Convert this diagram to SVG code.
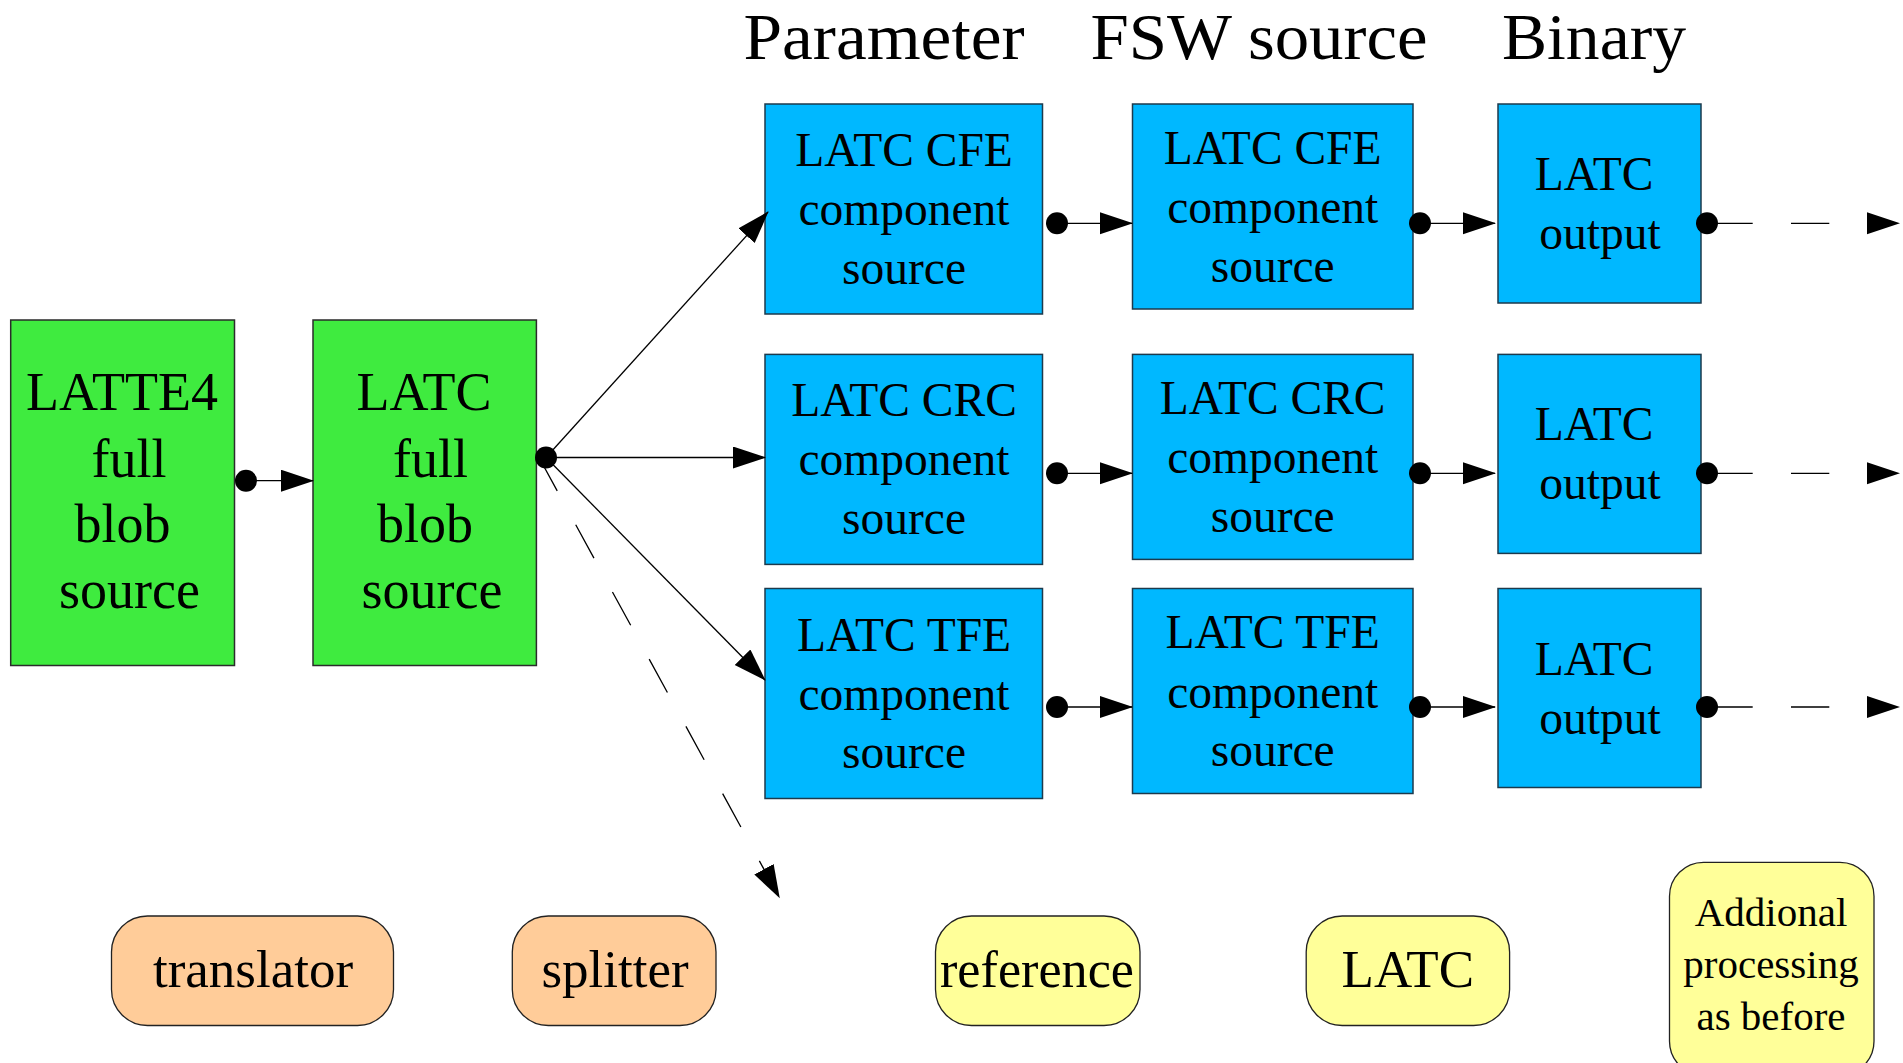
<svg xmlns="http://www.w3.org/2000/svg" width="1903" height="1063" viewBox="0 0 1903 1063">
  <style>
    text { font-family: "Liberation Serif", "Times New Roman", serif; fill: #000; text-anchor: middle; }
    .title { font-size: 66px; }
    .big { font-size: 54px; }
    .mid { font-size: 47.5px; }
    .leg { font-size: 53px; }
    .small { font-size: 41px; }
    .green { fill: #3feb3f; stroke: #2b2b2b; stroke-width: 1.5; }
    .blue { fill: #00b8ff; stroke: #1c3a4c; stroke-width: 1.5; }
    .orange { fill: #ffcc99; stroke: #222; stroke-width: 1.3; }
    .yellow { fill: #ffff99; stroke: #222; stroke-width: 1.3; }
    .wire { stroke: #000; stroke-width: 1.3; fill: none; marker-end: url(#head); }
    .dash { stroke-dasharray: 38 38.6; }
    .dot { fill: #000; }
  </style>
  <defs>
    <marker id="head" markerUnits="userSpaceOnUse" markerWidth="34" markerHeight="24" refX="32" refY="11" orient="auto">
      <path d="M0,0 L33,11 L0,22 Z" fill="#000"/>
    </marker>
  </defs>

  <!-- column headings -->
  <g id="headings">
    <text class="title" x="884" y="59" textLength="281" lengthAdjust="spacingAndGlyphs">Parameter</text>
    <text class="title" x="1259" y="59" textLength="337" lengthAdjust="spacingAndGlyphs">FSW source</text>
    <text class="title" x="1594" y="59" textLength="184" lengthAdjust="spacingAndGlyphs">Binary</text>
  </g>

  <!-- source blobs -->
  <g id="latte4-blob">
    <rect class="green" x="10.7" y="320" width="223.8" height="345.5"/>
    <text class="big" x="122" y="410">LATTE4</text>
    <text class="big" x="129" y="476.5">full</text>
    <text class="big" x="122.5" y="542">blob</text>
    <text class="big" x="129.5" y="608">source</text>
  </g>
  <g id="latc-blob">
    <rect class="green" x="313" y="320" width="223.4" height="345.5"/>
    <text class="big" x="424" y="410">LATC</text>
    <text class="big" x="430.5" y="476.5">full</text>
    <text class="big" x="425" y="542">blob</text>
    <text class="big" x="432" y="608">source</text>
  </g>

  <!-- parameter sources -->
  <g id="param-cfe">
    <rect class="blue" x="765" y="104" width="277.5" height="210"/>
    <text class="mid" x="904" y="166">LATC CFE</text>
    <text class="mid" x="904" y="225">component</text>
    <text class="mid" x="904" y="283.5">source</text>
  </g>
  <g id="param-crc">
    <rect class="blue" x="765" y="354.4" width="277.5" height="210"/>
    <text class="mid" x="904" y="416.4">LATC CRC</text>
    <text class="mid" x="904" y="475.4">component</text>
    <text class="mid" x="904" y="533.9">source</text>
  </g>
  <g id="param-tfe">
    <rect class="blue" x="765" y="588.5" width="277.5" height="210"/>
    <text class="mid" x="904" y="650.5">LATC TFE</text>
    <text class="mid" x="904" y="709.5">component</text>
    <text class="mid" x="904" y="768">source</text>
  </g>

  <!-- FSW sources -->
  <g id="fsw-cfe">
    <rect class="blue" x="1132.5" y="104" width="280.5" height="205"/>
    <text class="mid" x="1272.7" y="163.5">LATC CFE</text>
    <text class="mid" x="1272.7" y="223">component</text>
    <text class="mid" x="1272.7" y="281.5">source</text>
  </g>
  <g id="fsw-crc">
    <rect class="blue" x="1132.5" y="354.4" width="280.5" height="205"/>
    <text class="mid" x="1272.7" y="413.9">LATC CRC</text>
    <text class="mid" x="1272.7" y="473.4">component</text>
    <text class="mid" x="1272.7" y="531.9">source</text>
  </g>
  <g id="fsw-tfe">
    <rect class="blue" x="1132.5" y="588.5" width="280.5" height="205"/>
    <text class="mid" x="1272.7" y="648">LATC TFE</text>
    <text class="mid" x="1272.7" y="707.5">component</text>
    <text class="mid" x="1272.7" y="766">source</text>
  </g>

  <!-- binaries -->
  <g id="bin-cfe">
    <rect class="blue" x="1498" y="104" width="203" height="199"/>
    <text class="mid" x="1594" y="190">LATC</text>
    <text class="mid" x="1600" y="249">output</text>
  </g>
  <g id="bin-crc">
    <rect class="blue" x="1498" y="354.4" width="203" height="199"/>
    <text class="mid" x="1594" y="440.4">LATC</text>
    <text class="mid" x="1600" y="499.4">output</text>
  </g>
  <g id="bin-tfe">
    <rect class="blue" x="1498" y="588.5" width="203" height="199"/>
    <text class="mid" x="1594" y="674.5">LATC</text>
    <text class="mid" x="1600" y="733.5">output</text>
  </g>

  <!-- legend -->
  <g id="legend-translator">
    <rect class="orange" x="111.5" y="916" width="282" height="109.5" rx="36" ry="36"/>
    <text class="leg" x="253" y="987">translator</text>
  </g>
  <g id="legend-splitter">
    <rect class="orange" x="512.3" y="916" width="203.7" height="109.5" rx="36" ry="36"/>
    <text class="leg" x="615" y="987">splitter</text>
  </g>
  <g id="legend-reference">
    <rect class="yellow" x="935.5" y="916" width="204.5" height="109.5" rx="36" ry="36"/>
    <text class="leg" x="1037" y="987" textLength="194" lengthAdjust="spacingAndGlyphs">reference</text>
  </g>
  <g id="legend-latc">
    <rect class="yellow" x="1306.2" y="916" width="203.4" height="109.5" rx="36" ry="36"/>
    <text class="leg" x="1407.8" y="987">LATC</text>
  </g>
  <g id="legend-additional">
    <rect class="yellow" x="1669.5" y="862.3" width="204.5" height="213" rx="34" ry="34"/>
    <text class="small" x="1771" y="926">Addional</text>
    <text class="small" x="1771" y="978">processing</text>
    <text class="small" x="1771" y="1030">as before</text>
  </g>

  <!-- connectors -->
  <g id="connectors">
    <!-- translator -> splitter -->
    <line class="wire" x1="246" y1="480.7" x2="313" y2="480.7"/>
    <circle class="dot" cx="246" cy="480.7" r="11"/>

    <!-- splitter fan-out -->
    <line class="wire" x1="546" y1="457.5" x2="768" y2="212"/>
    <line class="wire" x1="546" y1="457.5" x2="765" y2="457.5"/>
    <line class="wire" x1="546" y1="457.5" x2="765" y2="680"/>
    <line class="wire dash" x1="539" y1="457.5" x2="779.3" y2="897.3"/>
    <circle class="dot" cx="546" cy="457.5" r="11"/>

    <!-- parameter -> FSW source -->
    <line class="wire" x1="1057" y1="223.3" x2="1132" y2="223.3"/>
    <line class="wire" x1="1057" y1="473.3" x2="1132" y2="473.3"/>
    <line class="wire" x1="1057" y1="707" x2="1132" y2="707"/>
    <circle class="dot" cx="1057" cy="223.3" r="11"/>
    <circle class="dot" cx="1057" cy="473.3" r="11"/>
    <circle class="dot" cx="1057" cy="707" r="11"/>

    <!-- FSW source -> binary -->
    <line class="wire" x1="1420" y1="223.3" x2="1495" y2="223.3"/>
    <line class="wire" x1="1420" y1="473.3" x2="1495" y2="473.3"/>
    <line class="wire" x1="1420" y1="707" x2="1495" y2="707"/>
    <circle class="dot" cx="1420" cy="223.3" r="11"/>
    <circle class="dot" cx="1420" cy="473.3" r="11"/>
    <circle class="dot" cx="1420" cy="707" r="11"/>

    <!-- binary -> further processing -->
    <line class="wire" x1="1707" y1="223.3" x2="1899" y2="223.3" stroke-dasharray="45.7 38.3 38.3 100"/>
    <line class="wire" x1="1707" y1="473.3" x2="1899" y2="473.3" stroke-dasharray="45.7 38.3 38.3 100"/>
    <line class="wire" x1="1707" y1="707" x2="1899" y2="707" stroke-dasharray="45.7 38.3 38.3 100"/>
    <circle class="dot" cx="1707" cy="223.3" r="11"/>
    <circle class="dot" cx="1707" cy="473.3" r="11"/>
    <circle class="dot" cx="1707" cy="707" r="11"/>
  </g>
</svg>
